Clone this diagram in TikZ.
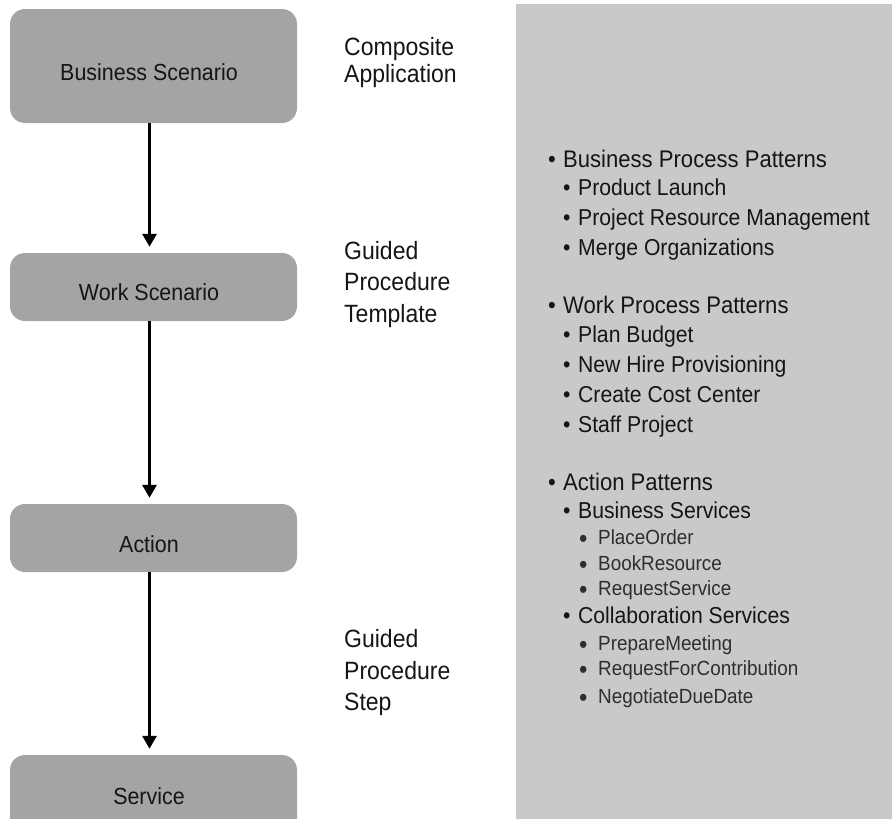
\documentclass[tikz,border=0pt]{standalone}
\usepackage{fontspec}
\setmainfont[FakeStretch=0.92]{Liberation Sans}
\usetikzlibrary{arrows.meta}
\definecolor{boxgray}{HTML}{A4A4A4}
\definecolor{panelgray}{HTML}{C9C9C9}
\definecolor{txtdark}{HTML}{151515}
\definecolor{txtsub}{HTML}{2E2E2E}
\newcommand\bulA{\makebox[15pt][l]{•}}
\newcommand\bulC{\makebox[19pt][l]{\raisebox{-3pt}{\fontsize{26}{26}\selectfont•}}}
\begin{document}
\begin{tikzpicture}[x=1pt,y=-1pt,
  box/.style={fill=boxgray, rounded corners=15pt, draw=none, minimum width=287pt, inner sep=0pt},
  boxtxt/.style={inner sep=0pt, font=\fontsize{23.3}{27}\selectfont, text=txtdark},
  flow/.style={line width=3pt, -{Triangle[width=14pt,length=13pt]}, draw=black, shorten >=6pt},
  lab/.style={anchor=base west, inner sep=0pt, font=\fontsize{25}{30}\selectfont, text=txtdark},
  lone/.style={anchor=base west, inner sep=0pt, font=\fontsize{24}{28}\selectfont, text=txtdark},
  ltwo/.style={anchor=base west, inner sep=0pt, font=\fontsize{23}{27}\selectfont, text=txtdark},
  lthree/.style={anchor=base west, inner sep=0pt, font=\fontsize{20.5}{24}\selectfont, text=txtsub}]
\useasboundingbox (0,0) rectangle (892,819);
\clip (0,0) rectangle (892,819);
% right panel
\fill[panelgray] (516,4) rectangle (892,819);
% flow boxes
\node[box, minimum height=114pt] (bs) at (153.5,66) {};
\node[box, minimum height=68pt] (ws) at (153.5,287) {};
\node[box, minimum height=68pt] (ac) at (153.5,538) {};
\node[box, minimum height=90pt] (sv) at (153.5,800) {};
\node[boxtxt] (bst) at (149,72) {Business Scenario};
\node[boxtxt] (wst) at (149,292.5) {Work Scenario};
\node[boxtxt] (act) at (149,544) {Action};
\node[boxtxt] (svt) at (149,796) {Service};
% connectors
\draw[flow] ([xshift=-4pt]bs.south) -- ([xshift=-4pt]ws.north);
\draw[flow] ([xshift=-4pt]ws.south) -- ([xshift=-4pt]ac.north);
\draw[flow] ([xshift=-4pt]ac.south) -- ([xshift=-4pt]sv.north);
% left-middle labels
\node[lab] (ca1) at (344,55) {Composite};
\node[lab] (ca2) at (344,82) {Application};
\node[lab] (gt1) at (344,259) {Guided};
\node[lab] (gt2) at (344,290) {Procedure};
\node[lab] (gt3) at (344,322) {Template};
\node[lab] (gs1) at (344,647) {Guided};
\node[lab] (gs2) at (344,679) {Procedure};
\node[lab] (gs3) at (344,710) {Step};
% pattern list
\node[lone] (p1) at (548,167) {\bulA Business Process Patterns};
\node[ltwo] (p2) at (563,195) {\bulA Product Launch};
\node[ltwo] (p3) at (563,225) {\bulA Project Resource Management};
\node[ltwo] (p4) at (563,255) {\bulA Merge Organizations};
\node[lone] (p5) at (548,313) {\bulA Work Process Patterns};
\node[ltwo] (p6) at (563,342) {\bulA Plan Budget};
\node[ltwo] (p7) at (563,372) {\bulA New Hire Provisioning};
\node[ltwo] (p8) at (563,402) {\bulA Create Cost Center};
\node[ltwo] (p9) at (563,432) {\bulA Staff Project};
\node[lone] (p10) at (548,490) {\bulA Action Patterns};
\node[ltwo] (p11) at (563,518) {\bulA Business Services};
\node[lthree] (p12) at (579,544) {\bulC PlaceOrder};
\node[lthree] (p13) at (579,570) {\bulC BookResource};
\node[lthree] (p14) at (579,595) {\bulC RequestService};
\node[ltwo] (p15) at (563,623) {\bulA Collaboration Services};
\node[lthree] (p16) at (579,650) {\bulC PrepareMeeting};
\node[lthree] (p17) at (579,675) {\bulC RequestForContribution};
\node[lthree] (p18) at (579,703) {\bulC NegotiateDueDate};
\end{tikzpicture}
\end{document}
